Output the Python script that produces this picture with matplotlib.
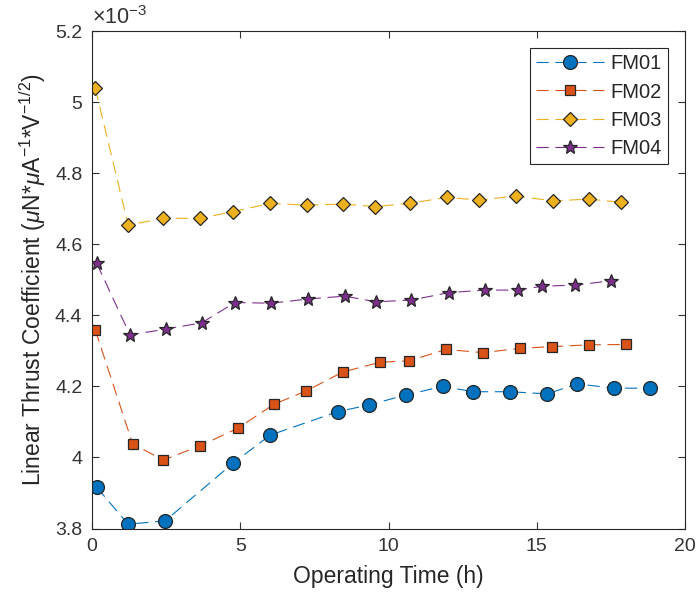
import matplotlib
matplotlib.use("Agg")
import matplotlib.pyplot as plt
from matplotlib.ticker import FuncFormatter, MultipleLocator

plt.rcParams['font.family'] = ['Liberation Sans', 'DejaVu Sans']
plt.rcParams['mathtext.fontset'] = 'custom'
plt.rcParams['mathtext.rm'] = 'Liberation Sans'
plt.rcParams['mathtext.it'] = 'Liberation Sans:italic'

# operating time (h) and thrust coefficient (x1e-3) for each module
t_fm01 = [0.16, 1.22, 2.47, 4.77, 6.01, 8.29, 9.35, 10.59, 11.83, 12.86, 14.09, 15.35, 16.36, 17.60, 18.81]
k_fm01 = [3.916, 3.812, 3.822, 3.985, 4.063, 4.129, 4.148, 4.176, 4.200, 4.185, 4.185, 4.179, 4.207, 4.195, 4.195]

t_fm02 = [0.11, 1.37, 2.41, 3.65, 4.91, 6.14, 7.22, 8.47, 9.72, 10.70, 11.94, 13.19, 14.43, 15.52, 16.76, 18.00]
k_fm02 = [4.359, 4.038, 3.993, 4.033, 4.082, 4.150, 4.187, 4.241, 4.268, 4.272, 4.304, 4.295, 4.307, 4.312, 4.317, 4.318]

t_fm03 = [0.11, 1.22, 2.41, 3.65, 4.77, 6.01, 7.24, 8.47, 9.54, 10.72, 11.96, 13.06, 14.30, 15.53, 16.76, 17.85]
k_fm03 = [5.039, 4.654, 4.673, 4.673, 4.692, 4.715, 4.710, 4.713, 4.706, 4.715, 4.732, 4.724, 4.736, 4.722, 4.727, 4.718]

t_fm04 = [0.16, 1.28, 2.48, 3.70, 4.82, 6.05, 7.29, 8.52, 9.57, 10.77, 12.04, 13.25, 14.37, 15.19, 16.28, 17.49]
k_fm04 = [4.546, 4.345, 4.361, 4.379, 4.436, 4.434, 4.446, 4.454, 4.438, 4.443, 4.464, 4.471, 4.471, 4.482, 4.485, 4.497]

labels = ['FM01', 'FM02', 'FM03', 'FM04']
colors = ['#0072BD', '#D95319', '#EDB120', '#7E2F8E']
markers = ['o', 's', 'D', '*']
sizes = [10, 7, 7.5, 10]

fig = plt.figure(figsize=(6.97, 6.02), dpi=100)
ax = fig.add_axes([0.132, 0.122, 0.851, 0.8265])

series = [(t_fm01, k_fm01), (t_fm02, k_fm02), (t_fm03, k_fm03), (t_fm04, k_fm04)]
for (t, k), lab, c, m, ms in zip(series, labels, colors, markers, sizes):
    ax.plot(t, k, color=c, linestyle='--', dashes=(11, 6), linewidth=0.8,
            marker=m, markersize=ms, markerfacecolor=c,
            markeredgecolor='#262626', markeredgewidth=0.9, label=lab)

ax.set_xlim(0, 20)
ax.set_ylim(3.8, 5.2)
ax.xaxis.set_major_locator(MultipleLocator(5))
ax.yaxis.set_major_locator(MultipleLocator(0.2))
ax.yaxis.set_major_formatter(FuncFormatter(lambda v, p: '%g' % round(v, 1)))

ax.tick_params(direction='in', top=True, right=True, length=5, width=0.8,
               labelsize=14, colors='#333333', pad=7)
for s in ax.spines.values():
    s.set_color('#262626')
    s.set_linewidth(0.8)

ax.set_xlabel('Operating Time (h)', fontsize=16.5, color='#262626', labelpad=7)
ax.set_ylabel(r'Linear Thrust Coefficient ($\mu$N*$\mu$A$^{-1}$*V$^{-1/2}$)',
              fontsize=16.5, color='#262626', labelpad=5)
ax.text(0.0, 1.004, r'$\times$10$^{-3}$', transform=ax.transAxes,
        fontsize=15.5, color='#333333', ha='left', va='bottom')

leg = ax.legend(loc='upper right', bbox_to_anchor=(0.971, 0.965), borderaxespad=0,
                fontsize=14.5, handlelength=3.4, handletextpad=0.3, borderpad=0.3,
                labelspacing=0.45, fancybox=False, framealpha=1)
leg.get_frame().set_edgecolor('#262626')
leg.get_frame().set_linewidth(0.8)
for txt in leg.get_texts():
    txt.set_color('#262626')

fig.savefig('out.png', dpi=100)
